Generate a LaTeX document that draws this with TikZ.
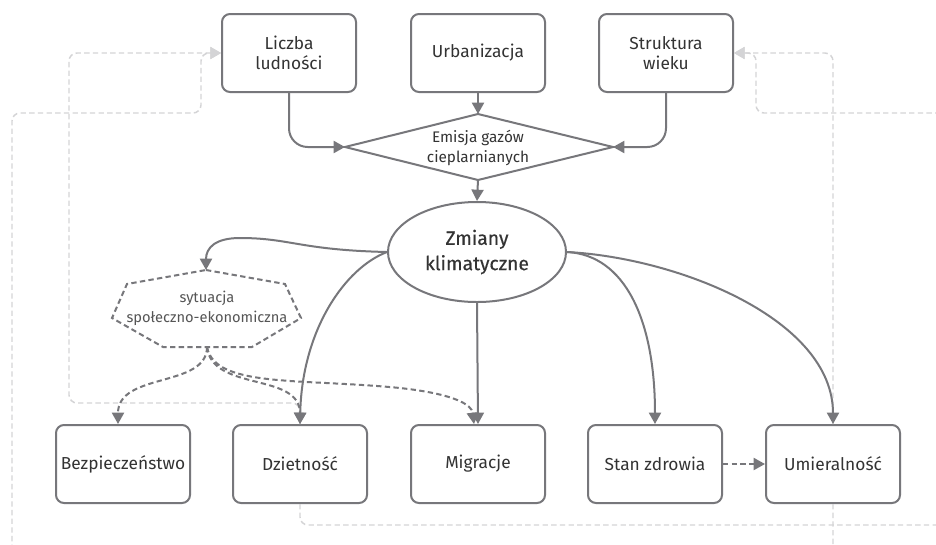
\documentclass[tikz,border=0pt]{standalone}
\usepackage{fontspec}
\setmainfont{Fira Sans}
\usetikzlibrary{arrows.meta,shapes.geometric}
\definecolor{edge}{HTML}{77777B}
\definecolor{light}{HTML}{D4D4D6}
\definecolor{txt}{HTML}{333333}
\definecolor{soft}{HTML}{555555}
\begin{document}
\begin{tikzpicture}[x=0.75pt,y=-0.75pt,
  box/.style={draw=edge, line width=1.5pt, rounded corners=6pt, fill=white,
    minimum width=100.5pt, minimum height=58.5pt, align=center, text=txt,
    font=\fontsize{13}{15.5}\selectfont, inner sep=0pt},
  arr/.style={draw=edge, line width=1.5pt, -{Triangle[length=8.5pt,width=9pt]}},
  darr/.style={arr, dashed, dash pattern=on 4pt off 2.5pt},
  fb/.style={draw=light, line width=1.1pt, dash pattern=on 4pt off 2.5pt, rounded corners=6pt,
    -{Triangle[length=8pt,width=9pt]}},
  txtnode/.style={align=center, inner sep=0pt}
]
\useasboundingbox (0,0) rectangle (936,544);
\fill[white] (0,0) rectangle (936,544);

% top boxes
\node[box] (lic) at (289,53) {Liczba\\ludności};
\node[box] (urb) at (478,53) {Urbanizacja};
\node[box] (str) at (666,53) {Struktura\\wieku};

% diamond
\coordinate (emL) at (345,147);
\coordinate (emT) at (478,114);
\coordinate (emR) at (613,147);
\coordinate (emB) at (478,180);
\draw[edge, line width=1.5pt, fill=white] (emL) -- (emT) -- (emR) -- (emB) -- cycle;
\node[txtnode, text=txt, font=\fontsize{11.5}{14.5}\selectfont] (em) at (478,148) {Emisja gazów\\cieplarnianych};

% ellipse
\node[ellipse, draw=edge, line width=1.5pt, fill=white, minimum width=133.5pt, minimum height=75pt,
  inner sep=0pt, align=center, text=txt, font=\fontsize{14.5}{19}\selectfont\addfontfeatures{FakeBold=0.5}]
  (zk) at (477,252) {Zmiany\\klimatyczne};

% heptagon (socio-economic)
\coordinate (hxT) at (206,270);
\coordinate (hxB) at (207,347);
\draw[edge, line width=1.5pt, dashed, dash pattern=on 4pt off 2.5pt, fill=white]
  (hxT) -- (285,284) -- (301,318) -- (252,347) -- (163,347) -- (112,318) -- (127,284) -- cycle;
\node[txtnode, text=soft, font=\fontsize{11}{15}\selectfont] (hx) at (207,308) {sytuacja\\społeczno-ekonomiczna};

% bottom boxes
\node[box] (bez) at (123,464) {Bezpieczeństwo};
\node[box] (dz) at (300,464) {Dzietność};
\node[box] (mig) at (478,464) {Migracje};
\node[box] (sz) at (655,464) {Stan zdrowia};
\node[box] (um) at (833,464) {Umieralność};

% feedback (light dashed) lines
\begin{scope}
\clip (0,0) rectangle (936,544);
\draw[fb] (dz.north) -- (300,403) -- (69,403) -- (69,53) -- (lic.west);
\draw[fb] (um.south) -- (833,562) -- (12,562) -- (12,113) -- (201,113) -- (201,53) -- (lic.west);
\draw[fb] (dz.south) -- (300,525) -- (955,525) -- (955,113) -- (756,113) -- (756,53) -- (str.east);
\draw[fb] (um.north) -- (833,53) -- (str.east);
\end{scope}

% main edges
\draw[arr, rounded corners=14pt] (lic.south) -- (289,147) -- (emL);
\draw[arr, rounded corners=14pt] (str.south) -- (666,147) -- (emR);
\draw[arr] (urb.south) -- (emT);
\draw[arr] (emB) -- (zk.north);

\draw[arr] (zk.west) .. controls (300,250) and (290,238) .. (240,238)
  .. controls (215,238) and (206,248) .. (hxT);
\draw[arr] (zk.west) .. controls (345,268) and (302,330) .. (dz.north);
\draw[arr] (zk.south) -- (mig.north);
\draw[arr] (zk.east) .. controls (625,255) and (655,320) .. (sz.north);
\draw[arr] (zk.east) .. controls (680,258) and (833,320) .. (um.north);

% dashed dark edges
\draw[darr] (hxB) .. controls (207,388) and (118,372) .. ([xshift=-3.75pt]bez.north);
\draw[darr] (hxB) .. controls (212,392) and (300,372) .. (dz.north);
\draw[darr] (hxB) .. controls (215,388) and (300,378) .. (400,388)
  .. controls (455,394) and (472,405) .. ([xshift=-3pt]mig.north);
\draw[darr] (sz.east) -- (um.west);
\end{tikzpicture}
\end{document}
